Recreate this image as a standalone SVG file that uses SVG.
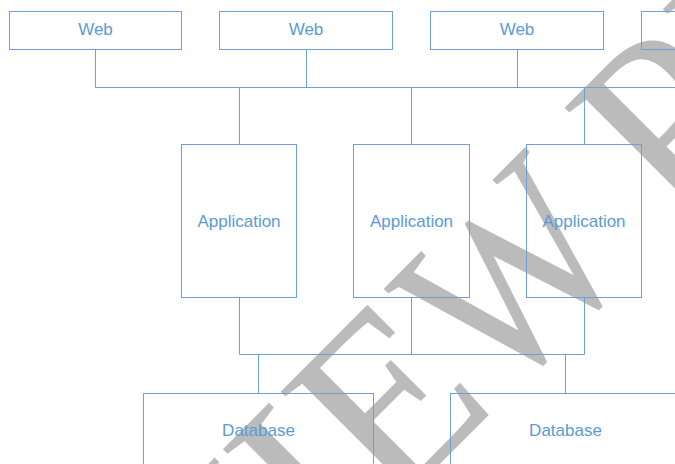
<svg xmlns="http://www.w3.org/2000/svg" width="675" height="464" viewBox="0 0 675 464">
<style>
.box{fill:none;stroke:#6f9fd6;stroke-width:1}
.lbl{font-family:"Liberation Sans",Arial,sans-serif;font-size:17px;fill:#5b9bd5;text-anchor:middle}
.wm{font-family:"Liberation Serif","Times New Roman",serif;font-size:250px;fill:#bbbbbb}
#connectors path{fill:none;stroke:#6f9fd6;stroke-width:1}
</style>
<rect width="675" height="464" fill="#ffffff"/>
<g id="watermark" transform="rotate(-45)">
<text class="wm" x="67" y="639" text-anchor="end">PREVIE</text>
<text class="wm" transform="translate(67 0) scale(0.85 1)" x="0" y="639">W</text>
<text class="wm" x="316" y="639">PREVIEW</text>
</g>
<g id="connectors">
<path d="M95.5 49.5V87.5M306.5 49.5V87.5M517.5 49.5V87.5M95.5 87.5H675"/>
<path d="M239.5 87.5V144.5M411.5 87.5V144.5M584.5 87.5V144.5"/>
<path d="M239.5 297.5V354.5M411.5 297.5V354.5M584.5 297.5V354.5M239.5 354.5H584.5"/>
<path d="M258.5 354.5V393.5M565.5 354.5V393.5"/>
</g>
<g id="web1"><rect class="box" x="9.5" y="11.5" width="172" height="38"/><text class="lbl" x="95.5" y="34.5">Web</text></g>
<g id="web2"><rect class="box" x="219.5" y="11.5" width="173" height="38"/><text class="lbl" x="306" y="34.5">Web</text></g>
<g id="web3"><rect class="box" x="430.5" y="11.5" width="173" height="38"/><text class="lbl" x="517" y="34.5">Web</text></g>
<g id="web4"><rect class="box" x="641.5" y="11.5" width="173" height="38"/></g>
<g id="app1"><rect class="box" x="181.5" y="144.5" width="115" height="153"/><text class="lbl" x="239" y="226.5">Application</text></g>
<g id="app2"><rect class="box" x="353.5" y="144.5" width="116" height="153"/><text class="lbl" x="411.5" y="226.5">Application</text></g>
<g id="app3"><rect class="box" x="526.5" y="144.5" width="115" height="153"/><text class="lbl" x="584" y="226.5">Application</text></g>
<g id="db1"><rect class="box" x="143.5" y="393.5" width="230" height="100"/><text class="lbl" x="258.5" y="436">Database</text></g>
<g id="db2"><rect class="box" x="450.5" y="393.5" width="230" height="100"/><text class="lbl" x="565.5" y="436">Database</text></g>
</svg>
